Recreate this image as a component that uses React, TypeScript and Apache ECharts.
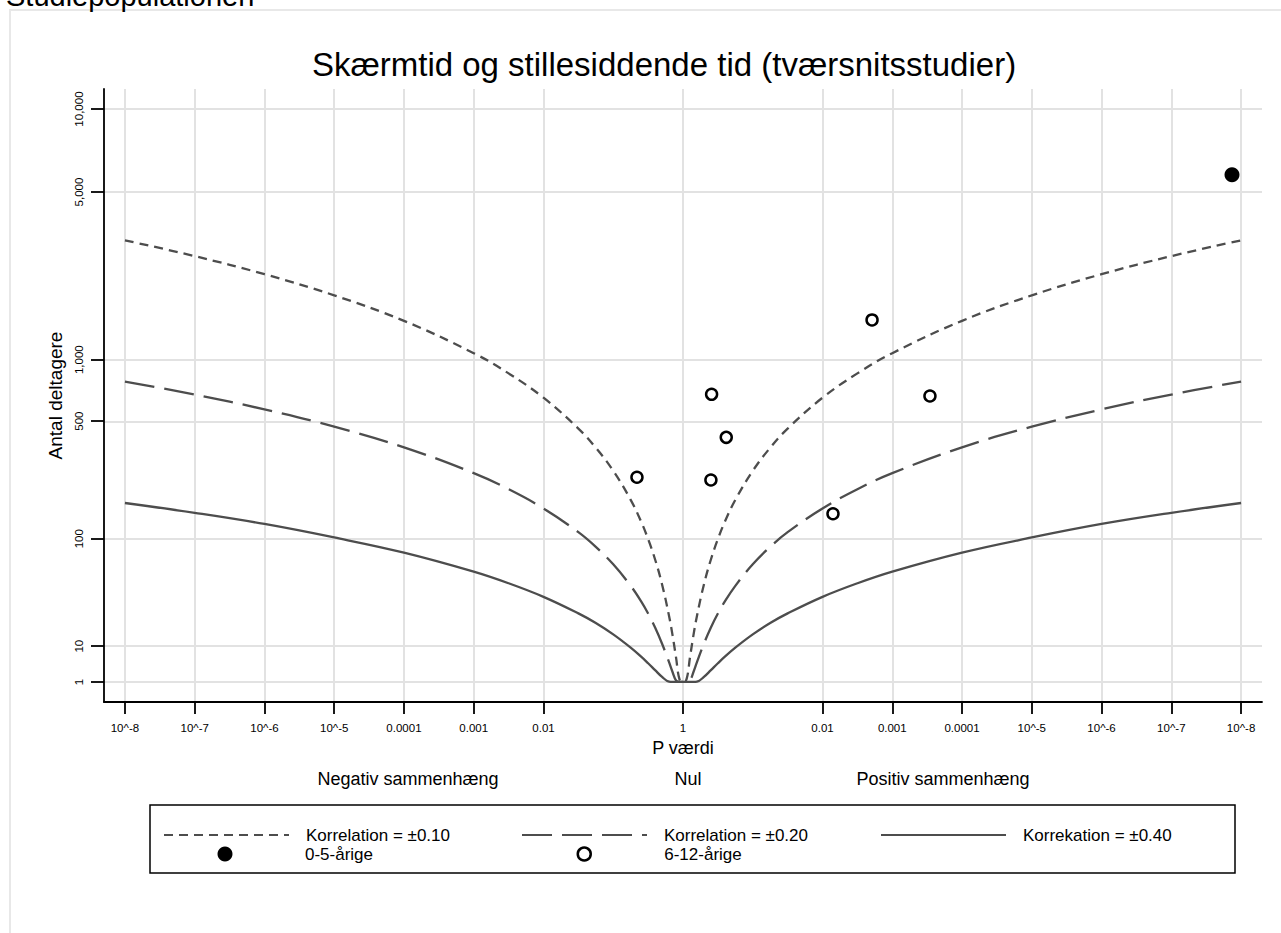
import React, { useEffect, useRef } from 'react';
import * as echarts from 'echarts';

const FONT = '"Liberation Sans", Arial, Helvetica, sans-serif';

const TITLE = 'Skærmtid og stillesiddende tid (tværsnitsstudier)';
const TOP_CUT_TEXT = 'Studiepopulationen';
const X_NAME = 'P værdi';
const Y_NAME = 'Antal deltagere';
const DIRECTION_LABELS = ['Negativ sammenhæng', 'Nul', 'Positiv sammenhæng'];
const DIRECTION_X = [408, 688, 943];

// x axis: signed -log10(p) (negative = negative association)
const xTickPos = [-8, -7, -6, -5, -4, -3, -2, 0, 2, 3, 4, 5, 6, 7, 8];
const xTickLabels = ['10^-8', '10^-7', '10^-6', '10^-5', '0.0001', '0.001', '0.01', '1', '0.01', '0.001', '0.0001', '10^-5', '10^-6', '10^-7', '10^-8'];

// y axis: number of participants
const yTickN = [1, 10, 100, 500, 1000, 5000, 10000];
const yTickLabels = ['1', '10', '100', '500', '1,000', '5,000', '10,000'];

// contour lines (one side, |log10 p|), participants
const contourLogP = [0, 0.05, 0.1, 0.15, 0.2, 0.3, 0.4, 0.5, 0.6, 0.75, 1, 1.25, 1.5, 2, 2.5, 3, 4, 5, 6, 7, 8];
const contourN010 = [1, 1.86, 6.74, 13.9, 22.8, 44.7, 70.7, 99.4, 130.5, 180, 268, 361, 457, 657, 862, 1072, 1499, 1931, 2369, 2809, 3251];
const contourN020 = [1, 1, 1.63, 3.36, 5.53, 10.8, 17.1, 24.1, 31.6, 43.5, 64.9, 87.6, 111, 159, 209, 260, 363, 468, 574, 681, 788];
const contourN040 = [1, 1, 1, 1, 1.21, 2.37, 3.75, 5.27, 6.92, 9.52, 14.2, 19.2, 24.2, 34.8, 45.7, 56.9, 79.5, 102, 126, 149, 172];

const NAME_010 = 'Korrelation = ±0.10';
const NAME_020 = 'Korrelation = ±0.20';
const NAME_040 = 'Korrekation = ±0.40';
const NAME_05 = '0-5-årige';
const NAME_612 = '6-12-årige';

// studies
const age05SignedLogP = [7.87];
const age05N = [5800];
const age612SignedLogP = [0.41, 3.54, 0.62, -0.66, 0.4, 2.15, 2.71];
const age612N = [683, 670, 411, 246, 237, 147, 1512];

const ty = (n: number) => {
  const l = Math.log10(Math.max(1, n));
  return l * l;
};

const mirror = (xs: number[], ns: number[]) => {
  const pts: number[][] = [];
  for (let i = xs.length - 1; i >= 1; i--) pts.push([-xs[i], ty(ns[i])]);
  for (let i = 0; i < xs.length; i++) pts.push([xs[i], ty(ns[i])]);
  return pts;
};

const yTickT = yTickN.map(ty);

export default function App() {
  const ref = useRef<HTMLDivElement>(null);
  useEffect(() => {
    if (!ref.current) return;
    const chart = echarts.init(ref.current, null, { renderer: 'svg' });
    const lineColor = '#4d4d4d';
    const legendText = (pad: number) => ({ fontSize: 17, color: '#000', fontFamily: FONT, padding: [0, 0, 0, pad] });
    const hiddenSymbol = { color: 'rgba(0,0,0,0)', borderWidth: 0, opacity: 0 };
    const lineLegend = (name: string, left: number) => ({
      data: [name], left, top: 826.5, itemWidth: 125, itemHeight: 14, padding: 0, selectedMode: false,
      itemStyle: hiddenSymbol, textStyle: legendText(12),
    });
    const option: any = {
      animation: false,
      backgroundColor: '#fff',
      textStyle: { fontFamily: FONT },
      title: {
        text: TITLE,
        left: 664,
        top: 48,
        textAlign: 'center',
        padding: 0,
        textStyle: { fontSize: 33, fontWeight: 'normal', color: '#000', fontFamily: FONT },
      },
      grid: { left: 104, right: 19, top: 89, bottom: 231 },
      xAxis: {
        type: 'value',
        min: -8.3,
        max: 8.3,
        z: 3,
        name: X_NAME,
        nameLocation: 'middle',
        nameGap: 34,
        nameTextStyle: { fontSize: 18, color: '#000', fontFamily: FONT },
        axisLine: { show: true, onZero: false, lineStyle: { color: '#000', width: 1.8 } },
        axisTick: { show: true, customValues: xTickPos, length: 12, lineStyle: { color: '#000', width: 1.8 } },
        axisLabel: {
          customValues: xTickPos,
          margin: 20,
          fontSize: 11.5,
          color: '#000',
          fontFamily: FONT,
          formatter: (v: number) => {
            const i = xTickPos.findIndex((t) => Math.abs(t - v) < 1e-6);
            return i >= 0 ? xTickLabels[i] : '';
          },
        },
        splitLine: { show: false },
      },
      yAxis: {
        type: 'value',
        min: -0.56,
        max: 16.56,
        z: 3,
        name: Y_NAME,
        nameLocation: 'middle',
        nameGap: 34.5,
        nameTextStyle: { fontSize: 19, color: '#000', fontFamily: FONT },
        axisLine: { show: true, onZero: false, lineStyle: { color: '#000', width: 1.8 } },
        axisTick: { show: true, customValues: yTickT, length: 13, lineStyle: { color: '#000', width: 1.8 } },
        axisLabel: {
          customValues: yTickT,
          rotate: 90,
          margin: 19,
          fontSize: 11.5,
          color: '#000',
          fontFamily: FONT,
          formatter: (v: number) => {
            const i = yTickT.findIndex((t) => Math.abs(t - v) < 1e-6);
            return i >= 0 ? yTickLabels[i] : '';
          },
        },
        splitLine: { show: false },
      },
      legend: [
        lineLegend(NAME_010, 163),
        lineLegend(NAME_020, 521),
        lineLegend(NAME_040, 880),
        {
          data: [NAME_05], left: 217.5, top: 845.5, itemWidth: 15, itemHeight: 15, padding: 0, selectedMode: false,
          textStyle: legendText(67.5),
        },
        {
          data: [NAME_612], left: 576.5, top: 845.5, itemWidth: 13, itemHeight: 13, padding: 0, selectedMode: false,
          textStyle: legendText(68.5),
          itemStyle: { color: '#fff', borderColor: '#000', borderWidth: 2.5 },
        },
      ],
      graphic: [
        { type: 'rect', z: -1, shape: { x: 10, y: 10, width: 1290, height: 940 }, style: { fill: 'none', stroke: '#e8e8e8', lineWidth: 2 } },
        { type: 'text', x: 6, y: 10, style: { text: TOP_CUT_TEXT, fontSize: 29, fill: '#000', fontFamily: FONT, verticalAlign: 'bottom' } },
        ...DIRECTION_LABELS.map((t, i) => ({
          type: 'text',
          x: DIRECTION_X[i],
          y: 779,
          style: { text: t, fontSize: 18, fill: '#000', fontFamily: FONT, align: 'center', verticalAlign: 'middle' },
        })),
        { type: 'rect', shape: { x: 150, y: 805, width: 1085, height: 68 }, style: { fill: 'none', stroke: '#000', lineWidth: 1.5 } },
      ],
      series: [
        {
          name: '_grid',
          type: 'line',
          data: [],
          silent: true,
          markLine: {
            silent: true,
            z: 1,
            symbol: ['none', 'none'],
            label: { show: false },
            lineStyle: { color: '#e2e2e2', width: 2, type: 'solid' },
            data: [
              ...xTickPos.map((v) => ({ xAxis: v })),
              ...yTickT.map((v) => ({ yAxis: v })),
            ],
          },
        },
        {
          name: NAME_010,
          type: 'line',
          z: 3,
          symbol: 'none',
          smooth: 0.4,
          data: mirror(contourLogP, contourN010),
          lineStyle: { color: lineColor, width: 2.3, type: [9, 6] },
          itemStyle: { color: lineColor },
        },
        {
          name: NAME_020,
          type: 'line',
          z: 3,
          symbol: 'none',
          smooth: 0.4,
          data: mirror(contourLogP, contourN020),
          lineStyle: { color: lineColor, width: 2.3, type: [30, 10] },
          itemStyle: { color: lineColor },
        },
        {
          name: NAME_040,
          type: 'line',
          z: 3,
          symbol: 'none',
          smooth: 0.4,
          data: mirror(contourLogP, contourN040),
          lineStyle: { color: lineColor, width: 2.3, type: 'solid' },
          itemStyle: { color: lineColor },
        },
        {
          name: NAME_05,
          type: 'scatter',
          z: 5,
          symbol: 'circle',
          symbolSize: 15,
          data: age05SignedLogP.map((x, i) => [x, ty(age05N[i])]),
          itemStyle: { color: '#000', opacity: 1 },
        },
        {
          name: NAME_612,
          type: 'scatter',
          z: 5,
          symbol: 'circle',
          symbolSize: 11,
          data: age612SignedLogP.map((x, i) => [x, ty(age612N[i])]),
          itemStyle: { color: '#fff', borderColor: '#000', borderWidth: 2.5, opacity: 1 },
        },
      ],
    };
    chart.setOption(option);
    return () => chart.dispose();
  }, []);
  return <div ref={ref} style={{ position: 'fixed', left: 0, top: 0, width: 1281, height: 933, background: '#fff' }} />;
}
